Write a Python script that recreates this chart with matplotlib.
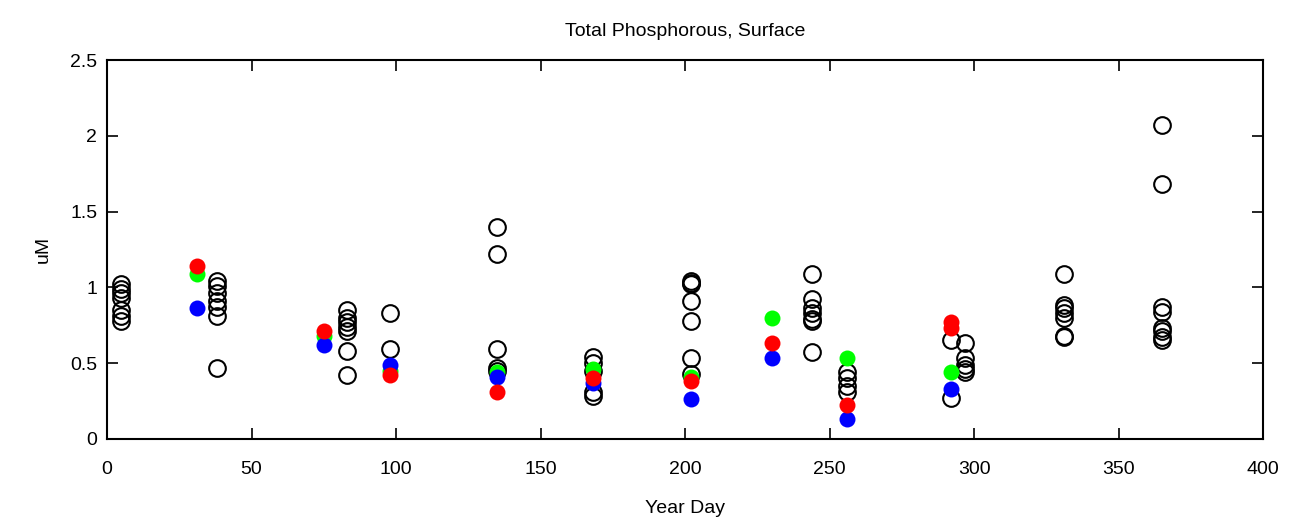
import numpy as np
import matplotlib
matplotlib.use('Agg')
import matplotlib.pyplot as plt

plt.rcParams['font.family'] = ['Liberation Sans Narrow', 'Liberation Sans', 'DejaVu Sans']

# open circles (all samples)
open_day = [5]*7 + [38]*7 + [83]*7 + [98]*2 + [135]*5 + [168]*5 + [202]*7 + \
           [244]*7 + [256]*4 + [292]*2 + [297]*5 + [331]*7 + [365]*8
open_val = [1.02, 0.99, 0.96, 0.93, 0.85, 0.81, 0.78,
            1.04, 1.01, 0.96, 0.91, 0.87, 0.81, 0.47,
            0.85, 0.80, 0.77, 0.74, 0.71, 0.58, 0.42,
            0.83, 0.59,
            1.40, 1.22, 0.59, 0.47, 0.45,
            0.54, 0.50, 0.45, 0.31, 0.28,
            1.04, 1.03, 1.02, 0.91, 0.78, 0.53, 0.43,
            1.09, 0.92, 0.86, 0.83, 0.79, 0.78, 0.57,
            0.44, 0.40, 0.35, 0.31,
            0.65, 0.27,
            0.63, 0.53, 0.49, 0.46, 0.44,
            1.09, 0.88, 0.86, 0.83, 0.80, 0.68, 0.67,
            2.07, 1.68, 0.87, 0.84, 0.73, 0.71, 0.67, 0.65]

# coloured stations
green_day = [31, 75, 98, 135, 168, 202, 230, 256, 292]
green_val = [1.09, 0.68, 0.45, 0.44, 0.46, 0.41, 0.80, 0.53, 0.44]
blue_day = [31, 75, 98, 135, 168, 202, 230, 256, 292]
blue_val = [0.86, 0.62, 0.49, 0.41, 0.37, 0.26, 0.53, 0.13, 0.33]
red_day = [31, 75, 98, 135, 168, 202, 230, 256, 292, 292]
red_val = [1.14, 0.71, 0.42, 0.31, 0.40, 0.38, 0.63, 0.22, 0.77, 0.73]

fig = plt.figure(figsize=(12.89, 5.18), dpi=100)
ax = fig.add_axes([0.083, 0.153, 0.897, 0.731])

ax.plot(open_day, open_val, 'o', mfc='none', mec='k', mew=1.5, ms=12, zorder=2)
ax.plot(green_day, green_val, 'o', color=(0, 1, 0), mec='none', ms=11.5, zorder=3)
ax.plot(blue_day, blue_val, 'o', color=(0, 0, 1), mec='none', ms=11.5, zorder=4)
ax.plot(red_day, red_val, 'o', color=(1, 0, 0), mec='none', ms=11.5, zorder=5)

ax.set_xlim(0, 400)
ax.set_ylim(0, 2.5)
ax.set_xticks(np.arange(0, 401, 50))
ax.set_yticks([0, 0.5, 1, 1.5, 2, 2.5])
ax.set_yticklabels(['0', '0.5', '1', '1.5', '2', '2.5'])
ax.tick_params(direction='in', length=8, width=1.2, top=True, right=True, labelsize=14)
ax.tick_params(axis='x', pad=16)
ax.tick_params(axis='y', pad=7)
for s in ax.spines.values():
    s.set_linewidth(1.5)

ax.set_title('Total Phosphorous, Surface', fontsize=14, pad=17)
ax.set_xlabel('Year Day', fontsize=14, labelpad=16)
ax.set_ylabel('uM', fontsize=14, labelpad=13)

fig.savefig('out.png', dpi=100)
